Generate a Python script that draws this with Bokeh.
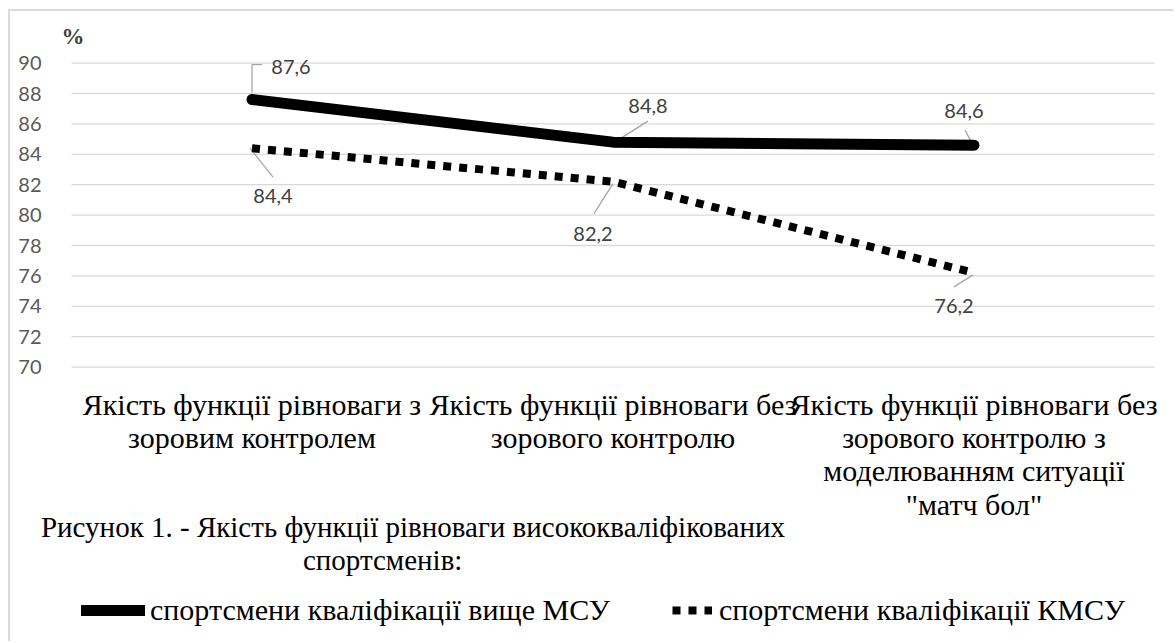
from bokeh.plotting import figure
from bokeh.models import FixedTicker, Legend, LegendItem, ColumnDataSource
from bokeh.core.properties import value
from bokeh.embed import file_html
from bokeh.resources import INLINE

# ---------------- data ----------------
categories = [
    "Якість функції рівноваги з\nзоровим контролем",
    "Якість функції рівноваги без\nзорового контролю",
    "Якість функції рівноваги без\nзорового контролю з\nмоделюванням ситуації\n\"матч бол\"",
]
series_names = ["спортсмени кваліфікації вище МСУ", "спортсмени кваліфікації КМСУ"]
msu = [87.6, 84.8, 84.6]
kmsu = [84.4, 82.2, 76.2]
y_ticks = [70, 72, 74, 76, 78, 80, 82, 84, 86, 88, 90]
y_unit = "%"
caption_lines = [
    "Рисунок 1.  - Якість функції рівноваги висококваліфікованих",
    "спортсменів:",
]

# ---------------- layout / style ----------------
W, H = 1165, 632
BT = 44
Y1 = 90.5
UY = 15.2
Y0 = Y1 - (H - BT) / UY
UX = 361.0
X0 = -0.5 - 61 / UX
X1 = 2.5 + (W - 61 - 3 * UX) / UX

SERIF = "Liberation Serif"
SANS = "Lato"
GRID = "#d9d9d9"
LEADER = "#a6a6a6"
LABEL_C = "#404040"

# data-label offsets in screen px (dx right, dy down) and leader paths
msu_label_off = [(39, -33), (35, -36), (-10, -34)]
msu_leader = [[(0, -7), (0, -35), (10, -35)], [(0, 1), (35, -21)], [(-9, -15), (-1, 0)]]
kmsu_label_off = [(21, 48), (-20, 52), (-20, 33)]
kmsu_leader = [[(-2, 0), (21, 29)], [(0, 2), (-19, 32)], [(-1, 2), (-20, 14)]]

p = figure(width=W, height=H, x_range=(X0, X1), y_range=(Y0, Y1),
           output_backend="svg", toolbar_location=None,
           min_border_left=0, min_border_right=0, min_border_top=BT, min_border_bottom=0)
p.styles = {"margin-left": "8px", "margin-top": "9px",
            "border-left": "2px solid #d9d9d9", "border-top": "2px solid #d9d9d9"}
p.outline_line_color = None
p.background_fill_color = "white"
p.border_fill_color = "white"

p.xaxis.visible = False
p.xgrid.visible = False
p.ygrid.visible = False
yax = p.yaxis[0]
yax.fixed_location = -0.5
yax.ticker = FixedTicker(ticks=y_ticks)
yax.axis_line_color = None
yax.major_tick_line_color = None
yax.minor_tick_line_color = None
yax.major_label_standoff = 24
yax.major_label_text_font = SANS
yax.major_label_text_font_size = "20px"
yax.major_label_text_color = "#595959"

# horizontal grid at the tick values, spanning the category band only
p.segment(x0=[-0.5] * len(y_ticks), x1=[2.5] * len(y_ticks), y0=y_ticks, y1=y_ticks,
          line_color=GRID, line_width=1.3)

p.title.text = y_unit
p.title.text_font = SERIF
p.title.text_font_size = "23px"
p.title.text_font_style = "bold"
p.title.text_color = "#404040"
p.title.align = "left"
p.title.offset = 51
p.title.standoff = 13

xs = list(range(len(categories)))

def leader_paths(vals, paths):
    lx, ly = [], []
    for i, (v, path) in enumerate(zip(vals, paths)):
        lx.append([xs[i] + dx / UX for dx, dy in path])
        ly.append([v - dy / UY for dx, dy in path])
    return lx, ly

for vals, paths in ((msu, msu_leader), (kmsu, kmsu_leader)):
    lx, ly = leader_paths(vals, paths)
    p.multi_line(lx, ly, line_color=LEADER, line_width=1.3)

r1 = p.line(xs, msu, line_color="black", line_width=11, line_cap="round", line_join="round")
r2 = p.line(xs, kmsu, line_color="black", line_width=8, line_dash="8 8", line_cap="butt")

for vals, offs in ((msu, msu_label_off), (kmsu, kmsu_label_off)):
    src = ColumnDataSource(dict(
        x=xs, y=vals, t=[f"{v:.1f}".replace(".", ",") for v in vals],
        dx=[o[0] for o in offs], dy=[o[1] for o in offs]))
    p.text(x="x", y="y", text="t", x_offset="dx", y_offset="dy", source=src,
           text_align="center", text_baseline="middle",
           text_font=value(SANS), text_font_size="20px", text_color=LABEL_C)

# category labels
p.text(x=xs, y=[68.65] * len(xs), text=categories, text_align="center", text_baseline="top",
       text_font=value(SERIF), text_font_size="30px", text_color="black", text_line_height=1.013)

# caption
p.text(x=[0.456, 0.362], y=[59.45, 57.3], text=caption_lines, text_align="center",
       text_baseline="middle", text_font=value(SERIF), text_font_size="29px", text_color="black")

# legends
common = dict(glyph_height=30, label_height=30, padding=0, margin=0,
              border_line_color=None, background_fill_alpha=0, spacing=0,
              label_text_font=SERIF, label_text_font_size="30px", label_text_color="black")
leg1 = Legend(items=[LegendItem(label=series_names[0], renderers=[r1])],
              location=(71, 16), glyph_width=64, label_standoff=5, **common)
leg2 = Legend(items=[LegendItem(label=series_names[1], renderers=[r2])],
              location=(662, 16), glyph_width=40, label_standoff=7, **common)
p.add_layout(leg1)
p.add_layout(leg2)

open("out.html", "w").write(file_html(p, INLINE))
